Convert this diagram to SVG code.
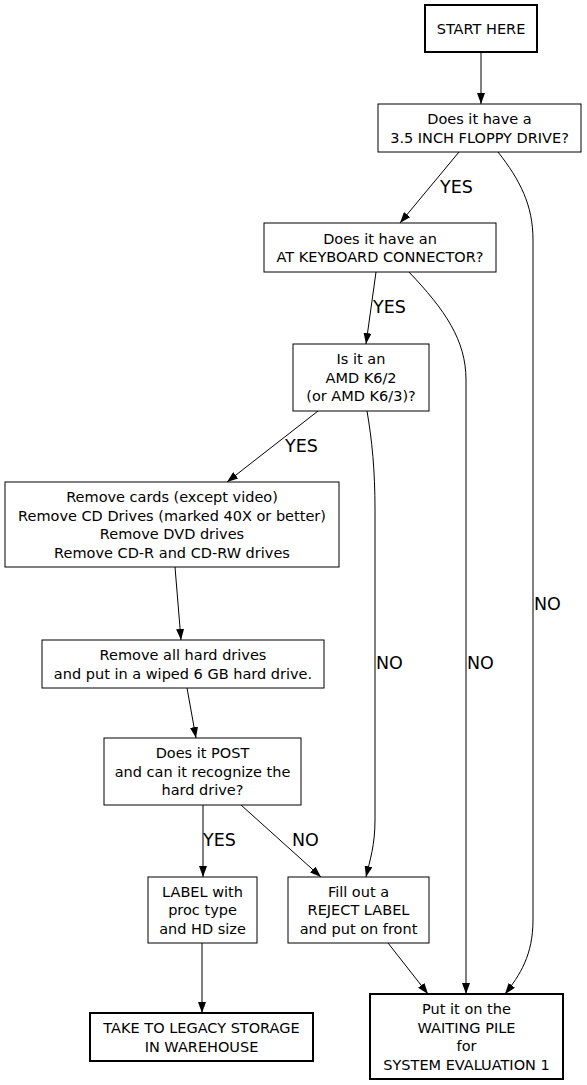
<svg xmlns="http://www.w3.org/2000/svg" width="587" height="1085" viewBox="0 0 587 1085">
<style>
.bg{fill:#fff}
.n rect{fill:#fff;stroke:#000;stroke-width:1}
.n.b rect{stroke-width:2}
.n text{font-family:"DejaVu Sans",sans-serif;font-size:14.5px;text-anchor:middle;fill:#000}
#edges path{fill:none;stroke:#000;stroke-width:1;marker-end:url(#ah)}
#edges text{font-family:"DejaVu Sans",sans-serif;font-size:17.5px;fill:#000}
</style>
<defs>
<marker id="ah" markerWidth="11" markerHeight="8" refX="11" refY="4" orient="auto" markerUnits="userSpaceOnUse">
<path d="M0,0 L11,4 L0,8 z" fill="#000"/>
</marker>
</defs>
<rect class="bg" x="0" y="0" width="587" height="1085"/>
<g id="edges">
<path d="M481,52 L481,104"/>
<path d="M459,152 L400,223"/>
<path d="M498,152 C520,180 533,205 533,240 L533,920 C533,955 520,975 505,994"/>
<path d="M376,272 L366,344"/>
<path d="M409,272 C445,310 466,340 466,380 L466,994"/>
<path d="M318,411 L227,482"/>
<path d="M367,411 C372,440 375,470 375,510 L375,820 C375,845 370,860 366,877"/>
<path d="M175,567 L181,640"/>
<path d="M187,688 L196,738"/>
<path d="M203,805 L203,877"/>
<path d="M241,805 L321,877"/>
<path d="M202,943 L202,1013"/>
<path d="M388,943 L428,994"/>
<text x="440" y="193">YES</text>
<text x="373" y="313">YES</text>
<text x="285" y="452">YES</text>
<text x="534" y="609.5">NO</text>
<text x="467" y="668.5">NO</text>
<text x="376" y="668.5">NO</text>
<text x="203" y="846">YES</text>
<text x="292" y="846">NO</text>
</g>
<g id="start" class="n b"><rect x="425" y="5" width="112" height="47"/><text x="481" y="33.8">START HERE</text></g>
<g id="floppy" class="n"><rect x="378" y="104" width="203" height="48"/><text x="479.5" y="124">Does it have a</text><text x="479.5" y="142.5">3.5 INCH FLOPPY DRIVE?</text></g>
<g id="atkbd" class="n"><rect x="264" y="223" width="232" height="49"/><text x="380" y="243.5">Does it have an</text><text x="380" y="262">AT KEYBOARD CONNECTOR?</text></g>
<g id="amd" class="n"><rect x="293" y="344" width="136" height="67"/><text x="361" y="364.3">Is it an</text><text x="361" y="382.8">AMD K6/2</text><text x="361" y="401.3">(or AMD K6/3)?</text></g>
<g id="remove" class="n"><rect x="5" y="482" width="334" height="85"/><text x="172" y="502">Remove cards (except video)</text><text x="172" y="520.5">Remove CD Drives (marked 40X or better)</text><text x="172" y="539">Remove DVD drives</text><text x="172" y="557.5">Remove CD-R and CD-RW drives</text></g>
<g id="harddrive" class="n"><rect x="42" y="640" width="282" height="48"/><text x="183" y="660">Remove all hard drives</text><text x="183" y="678.5">and put in a wiped 6 GB hard drive.</text></g>
<g id="post" class="n"><rect x="104" y="738" width="197" height="67"/><text x="202.5" y="758.3">Does it POST</text><text x="202.5" y="776.8">and can it recognize the</text><text x="202.5" y="795.3">hard drive?</text></g>
<g id="label" class="n"><rect x="148" y="877" width="109" height="66"/><text x="202.5" y="896.8">LABEL with</text><text x="202.5" y="915.3">proc type</text><text x="202.5" y="933.8">and HD size</text></g>
<g id="reject" class="n"><rect x="288" y="877" width="141" height="66"/><text x="358.5" y="896.8">Fill out a</text><text x="358.5" y="915.3">REJECT LABEL</text><text x="358.5" y="933.8">and put on front</text></g>
<g id="legacy" class="n b"><rect x="90" y="1013" width="223" height="48"/><text x="201.5" y="1033">TAKE TO LEGACY STORAGE</text><text x="201.5" y="1051.5">IN WAREHOUSE</text></g>
<g id="waiting" class="n b"><rect x="370" y="994" width="193" height="85"/><text x="466.5" y="1014">Put it on the</text><text x="466.5" y="1032.5">WAITING PILE</text><text x="466.5" y="1051">for</text><text x="466.5" y="1069.5">SYSTEM EVALUATION 1</text></g>
</svg>
